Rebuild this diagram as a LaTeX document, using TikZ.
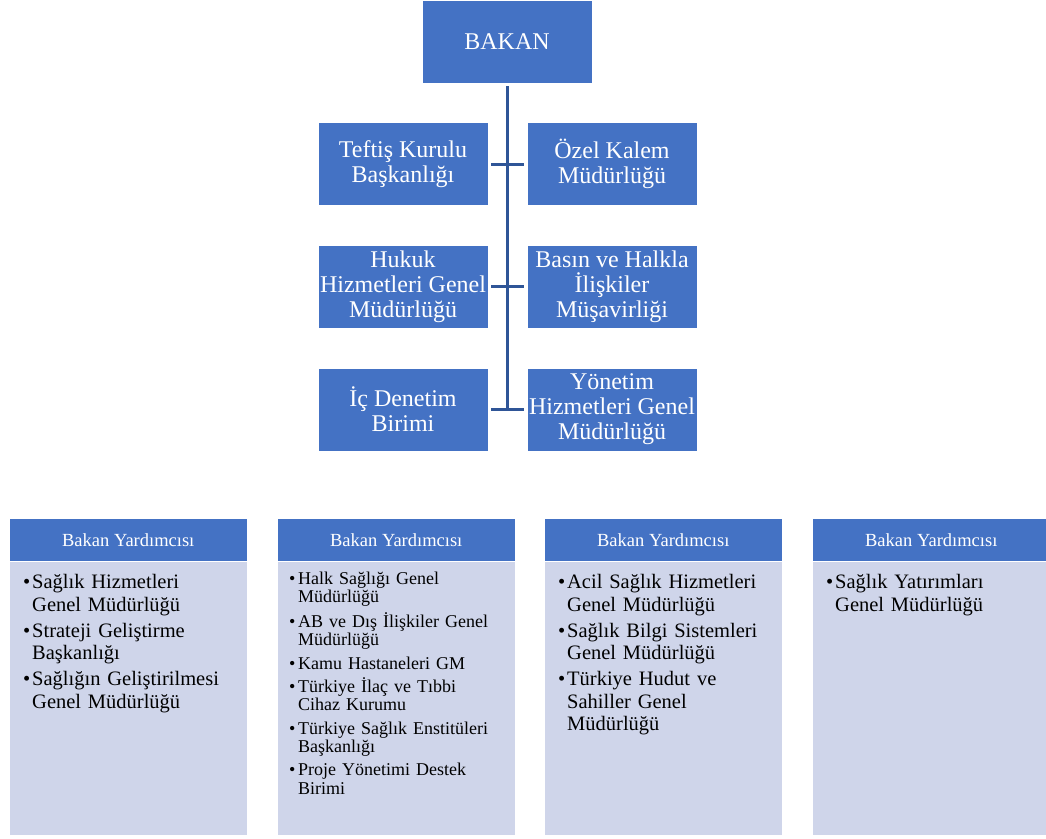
\documentclass[tikz,border=0pt]{standalone}
\usepackage{fontspec}
\setmainfont{Liberation Serif}
\definecolor{boxblue}{HTML}{4472C4}
\definecolor{linkblue}{HTML}{2F5597}
\definecolor{bodyfill}{HTML}{CFD5EA}
\newcommand\bitem[1]{\par\hangindent=9pt\hangafter=1\noindent\makebox[9pt][l]{\textbullet}#1}
\newcommand\nl{\break}
\begin{document}
\begin{tikzpicture}[x=1pt,y=-1pt,
  topbox/.style={draw=white, line width=0.8pt, fill=boxblue, text=white,
    minimum width=170pt, minimum height=83pt, inner sep=0pt, align=center,
    font=\fontsize{24}{25}\selectfont},
  link/.style={draw=linkblue, line width=3pt, line cap=butt},
  headbox/.style={fill=boxblue, draw=white, line width=0.5pt, text=white,
    minimum width=238pt, minimum height=43pt, inner sep=0pt,
    font=\fontsize{18.5}{20}\selectfont},
  bodybox/.style={fill=bodyfill, draw=white, line width=0.5pt,
    minimum width=238pt, minimum height=274pt, inner sep=0pt},
  biglist/.style={text width=215pt, align=left, inner sep=0pt, anchor=north west,
    font=\fontsize{20.5}{22.5}\selectfont},
  smalllist/.style={text width=215pt, align=left, inner sep=0pt, anchor=north west,
    font=\fontsize{18}{18.5}\selectfont}
  ]
\useasboundingbox[fill=white] (0,0) rectangle (1046,838);

% top part
\node[topbox] (bakan) at (507,41.5) {BAKAN};
\node[topbox] (tef) at (403,164) {Teftiş Kurulu\\Başkanlığı};
\node[topbox] (ozel) at (612,164) {Özel Kalem\\Müdürlüğü};
\node[topbox] (hukuk) at (403,286.5) {Hukuk\\Hizmetleri Genel\\Müdürlüğü};
\node[topbox] (basin) at (612,286.5) {Basın ve Halkla\\İlişkiler\\Müşavirliği};
\node[topbox] (icd) at (403,409.5) {İç Denetim\\Birimi};
\node[topbox] (yon) at (612,409.5) {Yönetim\\Hizmetleri Genel\\Müdürlüğü};

\coordinate (vend) at (507,410.5);
\draw[link] ([yshift=-3pt]bakan.south) -- (vend);
\draw[link] ([xshift=3pt]tef.east) -- ([xshift=-3pt]ozel.west);
\draw[link] ([xshift=3pt]hukuk.east) -- ([xshift=-3pt]basin.west);
\draw[link] ([xshift=3pt]icd.east) -- ([xshift=-3pt]yon.west);

% bottom columns
\node[bodybox, anchor=north west] (b1) at (9,561) {};
\node[bodybox, anchor=north west] (b2) at (277,561) {};
\node[bodybox, anchor=north west] (b3) at (544,561) {};
\node[bodybox, anchor=north west] (b4) at (812,561) {};
\node[headbox, anchor=north west] (h1) at (9,518) {Bakan Yardımcısı};
\node[headbox, anchor=north west] (h2) at (277,518) {Bakan Yardımcısı};
\node[headbox, anchor=north west] (h3) at (544,518) {Bakan Yardımcısı};
\node[headbox, anchor=north west] (h4) at (812,518) {Bakan Yardımcısı};

\node[biglist] (l1) at (23,562.3) {\setlength\parskip{3.5pt}%
\bitem{Sağlık Hizmetleri\nl Genel Müdürlüğü}
\bitem{Strateji Geliştirme\nl Başkanlığı}
\bitem{Sağlığın Geliştirilmesi\nl Genel Müdürlüğü}\par};

\node[smalllist] (l2) at (289,560.7) {\setlength\parskip{4.8pt}%
\bitem{Halk Sağlığı Genel\nl Müdürlüğü}
\bitem{AB ve Dış İlişkiler Genel\nl Müdürlüğü}
\bitem{Kamu Hastaneleri GM}
\bitem{Türkiye İlaç ve Tıbbi\nl Cihaz Kurumu}
\bitem{Türkiye Sağlık Enstitüleri\nl Başkanlığı}
\bitem{Proje Yönetimi Destek\nl Birimi}\par};

\node[biglist] (l3) at (558,562.3) {\setlength\parskip{3.5pt}%
\bitem{Acil Sağlık Hizmetleri\nl Genel Müdürlüğü}
\bitem{Sağlık Bilgi Sistemleri\nl Genel Müdürlüğü}
\bitem{Türkiye Hudut ve\nl Sahiller Genel\nl Müdürlüğü}\par};

\node[biglist] (l4) at (826,562.3) {\setlength\parskip{3.5pt}%
\bitem{Sağlık Yatırımları\nl Genel Müdürlüğü}\par};
\end{tikzpicture}
\end{document}
